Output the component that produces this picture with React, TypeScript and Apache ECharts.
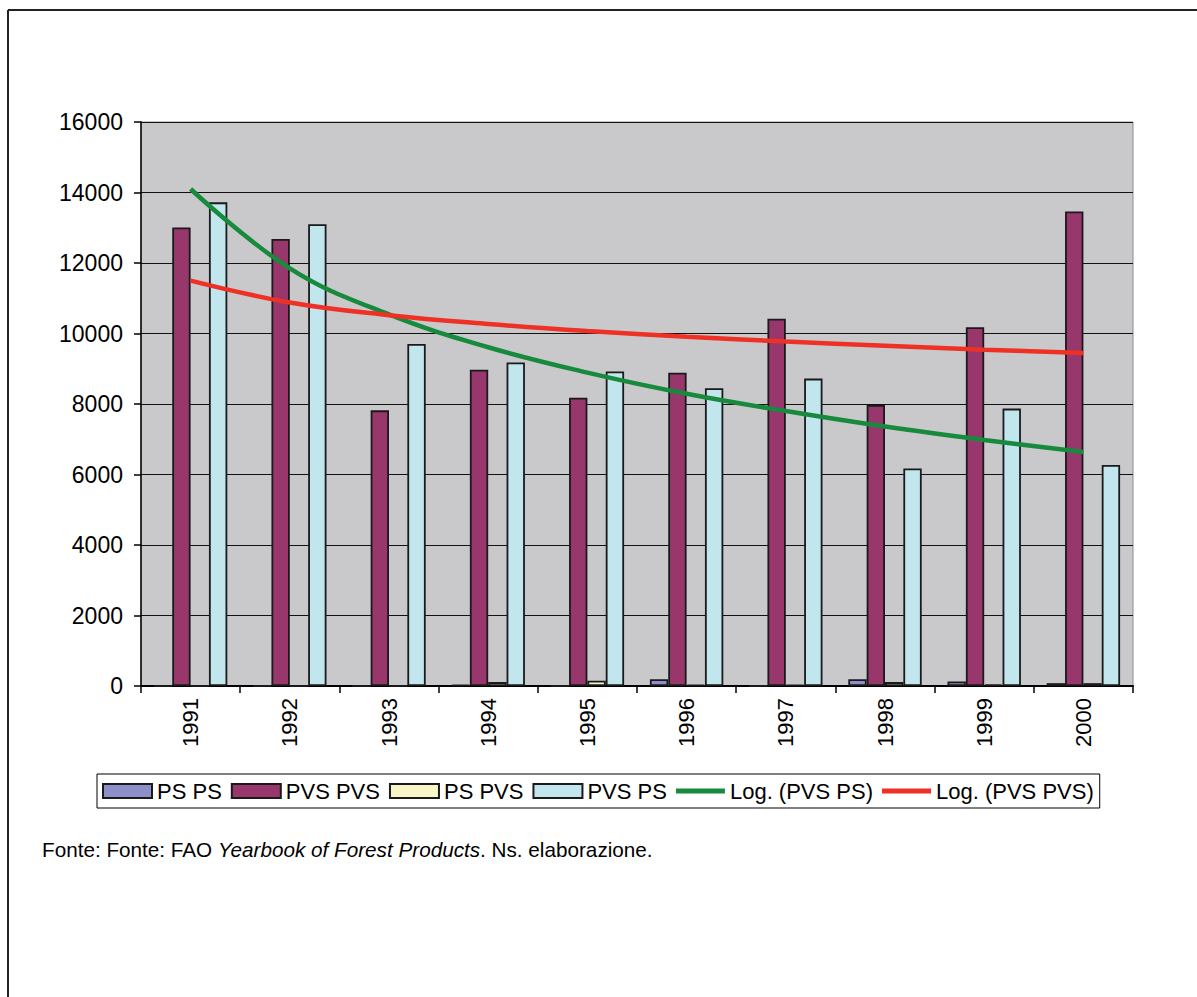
import React, { useEffect, useRef } from "react";
import * as echarts from "echarts";

const years = ["1991", "1992", "1993", "1994", "1995", "1996", "1997", "1998", "1999", "2000"];
const psPs = [0, 0, 0, 40, 0, 190, 0, 190, 130, 80];
const pvsPvs = [13010, 12680, 7820, 8970, 8180, 8890, 10420, 7970, 10180, 13460];
const psPvs = [0, 0, 0, 110, 150, 40, 30, 110, 50, 80];
const pvsPs = [13720, 13100, 9700, 9180, 8920, 8450, 8720, 6170, 7870, 6270];
const logPvsPs = [14100, 11850, 10540, 9610, 8890, 8290, 7800, 7360, 6980, 6640];
const logPvsPvs = [11500, 10880, 10520, 10270, 10070, 9910, 9770, 9650, 9540, 9450];
const yTicks = { min: 0, max: 16000, interval: 2000 };

const FONT = "'Liberation Sans', Arial, sans-serif";
const LINE_ICON = "path://M0,0H49V5H0Z";

export default function App() {
  const ref = useRef<HTMLDivElement>(null);
  useEffect(() => {
    if (!ref.current) return;
    const chart = echarts.init(ref.current, null, { renderer: "svg" });
    const barBorder = { borderColor: "#1a1a1a", borderWidth: 1.8 };
    chart.setOption({
      animation: false,
      backgroundColor: "#ffffff",
      textStyle: { fontFamily: FONT },
      grid: {
        left: 141,
        right: 64,
        top: 122,
        bottom: 311,
        show: true,
        backgroundColor: "#C9C9CB",
        borderColor: "#8a8a8a",
        borderWidth: 1,
      },
      legend: {
        left: 97,
        top: 774,
        itemWidth: 49,
        itemHeight: 14,
        itemGap: 9,
        padding: [6, 6, 6, 5],
        borderColor: "#000",
        borderWidth: 1,
        textStyle: { fontSize: 22, color: "#000", fontFamily: FONT },
        data: [
          { name: "PS PS", icon: "rect" },
          { name: "PVS PVS", icon: "rect" },
          { name: "PS PVS", icon: "rect" },
          { name: "PVS PS", icon: "rect" },
          { name: "Log. (PVS PS)", icon: LINE_ICON, itemStyle: { color: "#178A3D", borderWidth: 0 } },
          { name: "Log. (PVS PVS)", icon: LINE_ICON, itemStyle: { color: "#EE3124", borderWidth: 0 } },
        ],
      },
      xAxis: {
        type: "category",
        data: years,
        axisLine: { lineStyle: { color: "#000", width: 2 } },
        axisTick: { show: true, length: 7, lineStyle: { color: "#000", width: 1.5 } },
        axisLabel: { rotate: 90, margin: 12, fontSize: 22, color: "#000", fontFamily: FONT },
      },
      yAxis: {
        type: "value",
        min: yTicks.min,
        max: yTicks.max,
        interval: yTicks.interval,
        axisLine: { show: true, lineStyle: { color: "#000", width: 1.5 } },
        axisTick: { show: true, length: 7, lineStyle: { color: "#000", width: 1.5 } },
        splitLine: { show: true, lineStyle: { color: "#111", width: 1 } },
        axisLabel: {
          margin: 18,
          fontSize: 23,
          color: "#000",
          fontFamily: FONT,
          formatter: (v: number) => String(v),
        },
      },
      series: [
        { name: "PS PS", type: "bar", data: psPs, barGap: "0%", barCategoryGap: "26%", itemStyle: { color: "#8E8EC8", ...barBorder } },
        { name: "PVS PVS", type: "bar", data: pvsPvs, barGap: "0%", barCategoryGap: "26%", itemStyle: { color: "#97376C", ...barBorder } },
        { name: "PS PVS", type: "bar", data: psPvs, barGap: "0%", barCategoryGap: "26%", itemStyle: { color: "#F8F6C8", ...barBorder } },
        { name: "PVS PS", type: "bar", data: pvsPs, barGap: "0%", barCategoryGap: "26%", itemStyle: { color: "#C2E6EE", ...barBorder } },
        {
          name: "Log. (PVS PS)",
          type: "line",
          data: logPvsPs,
          smooth: 0.4,
          symbol: "none",
          z: 5,
          lineStyle: { color: "#178A3D", width: 4.5 },
          itemStyle: { color: "#178A3D" },
        },
        {
          name: "Log. (PVS PVS)",
          type: "line",
          data: logPvsPvs,
          smooth: 0.4,
          symbol: "none",
          z: 5,
          lineStyle: { color: "#EE3124", width: 4.5 },
          itemStyle: { color: "#EE3124" },
        },
      ],
      graphic: [
        { type: "line", shape: { x1: 8, y1: 10, x2: 1197, y2: 10 }, style: { stroke: "#222", lineWidth: 2 } },
        { type: "line", shape: { x1: 8, y1: 10, x2: 8, y2: 997 }, style: { stroke: "#222", lineWidth: 2 } },
        {
          type: "text",
          left: 42,
          top: 839,
          style: {
            text: "Fonte: Fonte: FAO {i|Yearbook of Forest Products}. Ns. elaborazione.",
            fontSize: 20.7,
            fontFamily: FONT,
            fill: "#000",
            rich: { i: { fontStyle: "italic", fontSize: 20.7, fontFamily: FONT } },
          },
        },
      ],
    });
    return () => chart.dispose();
  }, []);
  return (
    <div
      ref={ref}
      style={{ position: "fixed", left: 0, top: 0, width: 1197, height: 997, background: "#fff" }}
    />
  );
}
